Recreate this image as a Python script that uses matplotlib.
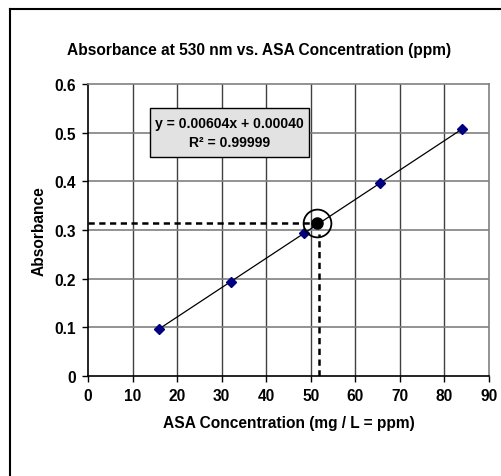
import matplotlib
matplotlib.use("Agg")
import matplotlib.pyplot as plt
from matplotlib.lines import Line2D
from matplotlib.patches import Rectangle

plt.rcParams['font.family'] = ['Liberation Sans', 'DejaVu Sans']
plt.rcParams['font.weight'] = 'bold'

# Data
conc = [15.9, 32.1, 48.5, 65.5, 83.9]
absorb = [0.097, 0.193, 0.293, 0.396, 0.507]
slope = 0.00604
intercept = 0.00040
sample_conc = 51.5
sample_abs = 0.314
sample_conc_line = 51.9
xticks = [0, 10, 20, 30, 40, 50, 60, 70, 80, 90]
yticks = [0, 0.1, 0.2, 0.3, 0.4, 0.5, 0.6]
ytick_labels = ['0', '0.1', '0.2', '0.3', '0.4', '0.5', '0.6']

FS = 11.2
W, H = 502, 477
fig = plt.figure(figsize=(W / 100, H / 100), dpi=100)
ax = fig.add_axes([88 / W, 1 - 377 / H, (489 - 88) / W, (377 - 85) / H])

# figure border (left and top only visible)
fig.lines.append(Line2D([9.5 / W, 9.5 / W], [0, 1 - 9.5 / H], transform=fig.transFigure,
                        color='black', linewidth=1.5))
fig.lines.append(Line2D([9.5 / W, 1], [1 - 9.5 / H, 1 - 9.5 / H], transform=fig.transFigure,
                        color='black', linewidth=1.5))

ax.set_xlim(0, 90)
ax.set_ylim(0, 0.6)
ax.set_xticks(xticks)
ax.set_yticks(yticks)
ax.set_yticklabels(ytick_labels)
ax.set_xticklabels([str(t) for t in xticks])

for t in xticks[1:-1]:
    ax.axvline(t, color='#404040', linewidth=1, zorder=1)
for t in yticks[1:-1]:
    ax.axhline(t, color='#808080', linewidth=1.2, zorder=1)

for s in ['top', 'right']:
    ax.spines[s].set_color('#808080')
    ax.spines[s].set_linewidth(1.2)
for s in ['left', 'bottom']:
    ax.spines[s].set_color('black')
    ax.spines[s].set_linewidth(1.2)

ax.tick_params(axis='both', direction='out', length=4, width=1,
               labelsize=FS, colors='black', pad=5)
for lab in ax.get_xticklabels() + ax.get_yticklabels():
    lab.set_fontweight('bold')

# trendline
xs = [min(conc), max(conc)]
ax.plot(xs, [slope * x + intercept for x in xs], color='black', linewidth=0.9, zorder=3)
# data points
ax.plot(conc, absorb, linestyle='none', marker='D', markersize=5.5,
        color='#000080', zorder=4)

# sample point and dashed guides
ax.plot([0, sample_conc - 1.6], [sample_abs, sample_abs], color='black',
        linestyle=(0, (2.5, 1.8)), linewidth=1.8, zorder=3)
ax.plot([sample_conc_line, sample_conc_line], [0, sample_abs - 0.023], color='black',
        linestyle=(0, (2.5, 1.8)), linewidth=1.8, zorder=3)
ax.plot([sample_conc], [sample_abs], marker='o', markersize=8, color='black', zorder=5)
ax.plot([sample_conc], [sample_abs], marker='o', markersize=20, markerfacecolor='none',
        markeredgecolor='black', markeredgewidth=1.3, zorder=5)

# equation box
ax.add_patch(Rectangle((13.9, 0.4497), 49.6 - 13.9, 0.550 - 0.4497, facecolor='#e2e2e2',
                       edgecolor='black', linewidth=1, zorder=6))
ax.text(31.8, 0.5, 'y = 0.00604x + 0.00040\nR² = 0.99999', ha='center', va='center',
        fontsize=10.1, fontweight='bold', linespacing=1.45, zorder=7)

fig.text(259 / W, 1 - 50 / H, 'Absorbance at 530 nm vs. ASA Concentration (ppm)',
         ha='center', va='center', fontsize=FS, fontweight='bold')
ax.set_xlabel('ASA Concentration (mg / L = ppm)', fontsize=FS, fontweight='bold', labelpad=8)
ax.set_ylabel('Absorbance', fontsize=FS, fontweight='bold', labelpad=5)

fig.savefig('out.png', dpi=100)
